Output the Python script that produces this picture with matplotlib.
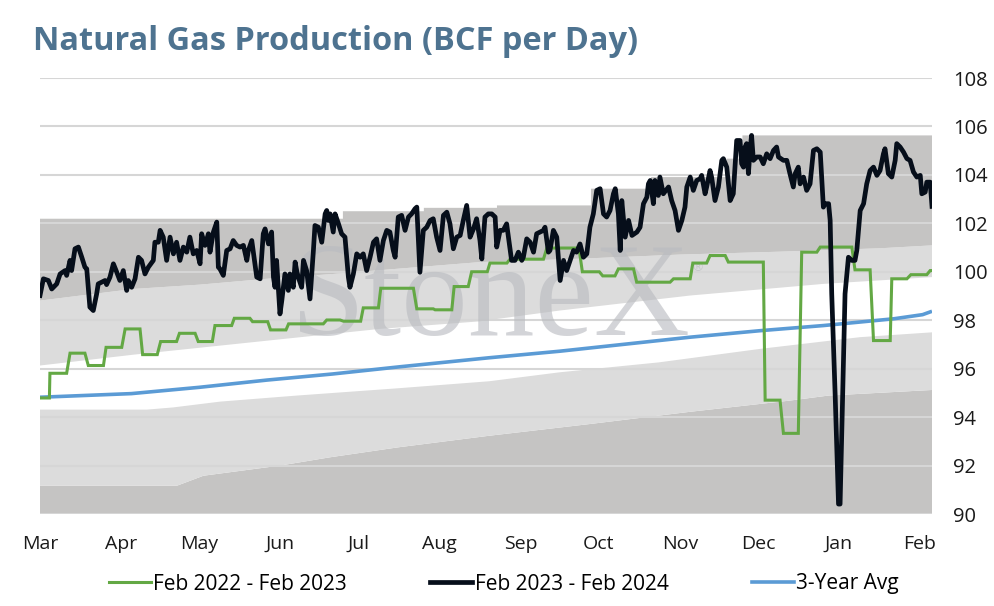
import numpy as np
import pandas as pd
import matplotlib
matplotlib.use("Agg")
import matplotlib.pyplot as plt
import matplotlib.dates as mdates
from matplotlib.lines import Line2D

plt.rcParams['font.family'] = ['Lato', 'DejaVu Sans']

# ---------------- data ----------------
START = pd.Timestamp('2023-03-01')
END_DAY = 341.6
month_labels = ['Mar', 'Apr', 'May', 'Jun', 'Jul', 'Aug', 'Sep', 'Oct', 'Nov', 'Dec', 'Jan', 'Feb']
y_ticks = [90, 92, 94, 96, 98, 100, 102, 104, 106, 108]

# Feb 2023 - Feb 2024 (days since Mar 1)
cur_days = [0, 1.3, 3.2, 4.5, 6.4, 7.7, 9.6, 10.2, 11.5, 12.1,
            13.4, 14.7, 16.0, 17.2, 17.9, 19.1, 20.4, 21.7, 22.3, 23.6,
            24.9, 25.5, 26.8, 28.1, 29.4, 30.6, 31.9, 33.2, 33.8, 35.1,
            36.4, 37.7, 38.9, 40.2, 41.5, 43.4, 44.0, 45.3, 46.0, 47.2,
            48.5, 49.8, 51.1, 52.3, 53.6, 54.9, 56.2, 57.4, 58.7, 60.0,
            61.3, 61.9, 63.2, 64.5, 65.1, 66.4, 67.7, 68.3, 68.9, 70.2,
            71.5, 72.8, 74.0, 75.3, 76.6, 77.9, 79.2, 79.8, 81.1, 83.0,
            84.3, 85.5, 86.2, 87.5, 88.7, 89.4, 90.0, 90.6, 91.9, 92.6,
            93.8, 95.1, 95.7, 97.0, 97.7, 98.3, 98.9, 100.2, 100.9, 102.1,
            103.4, 104.7, 105.3, 106.6, 107.9, 109.2, 109.8, 110.4, 111.1, 112.3,
            113.0, 114.3, 115.5, 116.8, 118.1, 118.7, 120.0, 121.3, 122.6, 123.8,
            125.1, 126.4, 127.7, 128.9, 130.2, 131.5, 132.8, 134.0, 135.3, 136.0,
            137.2, 138.5, 139.8, 141.1, 142.3, 143.6, 144.3, 145.5, 146.8, 148.1,
            149.4, 150.6, 151.9, 153.2, 154.5, 155.8, 157.0, 158.3, 159.6, 160.9,
            162.1, 163.4, 164.7, 166.0, 167.2, 168.5, 169.2, 170.4, 171.7, 173.0,
            174.3, 174.9, 176.2, 177.4, 178.7, 179.4, 180.6, 181.9, 183.2, 184.5,
            185.1, 186.4, 187.7, 189.0, 190.2, 191.5, 192.8, 193.4, 194.7, 195.3,
            196.6, 197.9, 199.2, 200.5, 201.7, 203.0, 204.3, 205.5, 206.8, 208.1,
            209.4, 210.6, 211.9, 213.2, 214.5, 215.8, 217.0, 218.3, 219.6, 220.3,
            221.5, 222.2, 222.8, 224.1, 225.4, 226.7, 228.6, 229.8, 231.1, 232.4,
            233.0, 233.7, 234.9, 235.5, 236.8, 237.4, 238.7, 240.7, 241.9, 243.2,
            244.5, 245.8, 247.0, 247.7, 249.0, 250.2, 251.5, 252.8, 253.4, 254.7,
            255.3, 256.6, 257.2, 258.5, 259.8, 261.1, 261.7, 263.0, 264.3, 265.5,
            266.8, 268.1, 268.7, 269.4, 270.0, 270.6, 271.3, 271.9, 272.5, 273.2,
            274.5, 275.8, 277.0, 278.3, 279.6, 280.9, 282.1, 282.8, 284.7, 286.0,
            287.2, 288.5, 289.2, 290.4, 291.1, 292.4, 293.6, 294.9, 296.2, 297.5,
            298.8, 300.0, 300.7, 302.0, 302.6, 303.2, 304.5, 305.8, 306.4, 307.4,
            308.3, 309.6, 310.9, 312.1, 312.8, 314.1, 315.4, 316.6, 317.9, 319.2,
            320.5, 321.7, 323.0, 323.6, 324.9, 326.2, 327.5, 328.1, 329.4, 330.7,
            332.0, 333.2, 334.5, 335.8, 337.1, 337.7, 339.0, 339.6, 340.9, 341.6]
cur_vals = [99.02, 99.71, 99.64, 99.29, 99.50, 99.91, 100.05, 99.85, 100.47, 100.05,
            100.95, 101.02, 100.60, 100.19, 100.12, 98.54, 98.40, 99.09, 99.50, 99.57,
            99.64, 99.47, 99.78, 100.33, 99.98, 99.64, 100.05, 99.23, 99.64, 99.36,
            99.71, 100.60, 100.47, 99.91, 100.19, 100.47, 101.22, 101.22, 101.71, 101.43,
            100.47, 101.43, 100.74, 101.22, 100.47, 101.02, 100.81, 101.43, 100.74, 100.88,
            100.33, 101.57, 101.09, 101.57, 100.81, 101.64, 102.05, 100.19, 100.12, 99.85,
            100.88, 100.95, 101.29, 101.09, 101.02, 101.09, 100.47, 100.88, 101.29, 99.78,
            99.71, 101.57, 101.77, 101.15, 101.64, 99.78, 99.36, 100.47, 98.26, 98.81,
            99.91, 99.23, 99.91, 99.36, 100.40, 100.05, 99.78, 99.36, 100.47, 100.05,
            98.88, 100.88, 101.91, 101.84, 101.22, 102.39, 102.53, 102.12, 102.39, 101.64,
            102.39, 101.98, 101.57, 101.43, 99.78, 99.36, 99.91, 100.74, 100.60, 100.74,
            100.05, 100.60, 101.22, 101.36, 100.47, 101.29, 101.71, 101.64, 100.88, 100.60,
            102.26, 102.33, 101.71, 102.26, 102.39, 102.60, 102.67, 99.98, 101.71, 101.84,
            102.12, 102.19, 101.43, 100.88, 102.33, 102.46, 101.98, 100.95, 101.43, 101.50,
            102.12, 102.74, 101.43, 101.77, 102.19, 101.29, 100.53, 102.26, 102.39, 102.39,
            102.26, 101.02, 101.71, 101.71, 101.98, 101.43, 100.47, 100.47, 100.81, 100.47,
            100.60, 101.36, 101.22, 100.81, 101.57, 101.64, 101.71, 101.84, 100.81, 100.88,
            101.71, 101.43, 99.64, 100.47, 100.05, 100.47, 100.88, 100.81, 101.15, 100.60,
            100.74, 101.84, 102.39, 103.36, 103.43, 102.39, 102.26, 102.53, 103.22, 103.43,
            102.39, 100.88, 102.94, 101.43, 102.12, 101.50, 101.64, 101.84, 102.81, 103.08,
            103.63, 103.77, 102.81, 103.77, 103.15, 103.91, 103.22, 103.50, 102.94, 102.53,
            101.71, 102.12, 102.67, 103.50, 103.91, 103.36, 103.77, 103.84, 103.98, 103.22,
            103.50, 104.18, 103.91, 102.94, 103.50, 104.60, 104.67, 104.32, 102.94, 103.22,
            105.42, 105.42, 104.46, 104.32, 105.15, 105.29, 104.05, 105.01, 105.63, 104.60,
            104.74, 104.74, 104.46, 104.87, 104.67, 105.01, 105.15, 104.74, 104.60, 104.60,
            104.05, 103.50, 104.05, 104.32, 103.63, 103.91, 103.36, 103.63, 105.01, 105.08,
            104.94, 102.67, 102.81, 102.81, 102.12, 99.09, 94.96, 90.41, 90.41, 94.96,
            99.09, 100.60, 100.47, 100.47, 100.88, 102.53, 102.81, 103.63, 104.18, 104.32,
            103.98, 104.18, 104.87, 105.08, 104.05, 103.91, 104.60, 105.29, 105.15, 104.94,
            104.67, 104.60, 104.12, 103.91, 103.98, 103.22, 103.29, 103.70, 103.70, 102.70]

# Feb 2022 - Feb 2023 (step-like series)
prev_days = [0, 3.6, 3.8, 10.2, 11.5, 17.2, 18.5, 24.3, 25.3, 31.3,
             32.6, 38.3, 39.3, 44.9, 46.2, 52.3, 53.4, 59.4, 60.6, 66.0,
             67.0, 73.4, 74.4, 80.4, 81.4, 87.2, 88.3, 94.2, 95.2, 108.5,
             109.8, 114.9, 116.2, 122.8, 123.8, 129.6, 130.5, 143.0, 144.3, 150.6,
             151.3, 157.7, 158.6, 164.0, 165.3, 171.3, 172.3, 178.8, 180.0, 192.8,
             194.1, 206.4, 207.7, 214.2, 215.5, 220.2, 221.5, 227.3, 228.5, 241.3,
             242.6, 249.0, 250.0, 255.3, 256.6, 262.4, 263.6, 277.0, 277.7, 283.4,
             284.7, 290.4, 291.7, 297.5, 298.8, 310.9, 312.1, 317.9, 319.2, 325.6,
             326.2, 332.0, 333.5, 339.6, 340.9, 341.6]
prev_vals = [94.79, 94.79, 95.81, 95.81, 96.64, 96.64, 96.13, 96.13, 96.88, 96.88,
             97.64, 97.64, 96.58, 96.58, 97.12, 97.12, 97.46, 97.46, 97.12, 97.12,
             97.78, 97.78, 98.08, 98.08, 97.94, 97.94, 97.60, 97.60, 97.85, 97.85,
             98.01, 98.01, 97.96, 97.96, 98.51, 98.51, 99.32, 99.32, 98.47, 98.47,
             98.43, 98.43, 99.39, 99.39, 100.0, 100.0, 100.36, 100.36, 100.52, 100.52,
             100.98, 100.98, 100.0, 100.0, 99.83, 99.83, 100.12, 100.12, 99.57, 99.57,
             99.71, 99.71, 100.36, 100.36, 100.67, 100.67, 100.40, 100.40, 94.70, 94.70,
             93.33, 93.33, 100.81, 100.81, 101.02, 101.02, 100.08, 100.08, 97.16, 97.16,
             99.71, 99.71, 99.88, 99.88, 100.05, 100.05]

# 3-Year average
avg_days = [0, 35, 61, 87, 112, 138, 172, 199, 249, 276, 300, 327, 338, 341.6]
avg_vals = [94.82, 94.97, 95.23, 95.53, 95.78, 96.08, 96.45, 96.72, 97.30, 97.57,
            97.78, 98.06, 98.23, 98.37]

# range bands (boundaries)
band1_days = [0, 52.5, 62.6, 92, 111, 137, 172, 211, 249, 287, 302, 341.6]
band1_vals = [91.17, 91.17, 91.58, 92.0, 92.34, 92.75, 93.23, 93.72, 94.22, 94.68, 94.89, 95.12]
band2_days = [0, 41, 51, 69, 98.4, 137, 172, 199, 237, 276, 314, 341.6]
band2_vals = [94.31, 94.31, 94.40, 94.64, 94.89, 95.19, 95.48, 95.85, 96.26, 96.82, 97.30, 97.50]
band3_days = [0, 36, 90, 130, 168, 199, 249, 300, 341.6]
band3_vals = [96.13, 96.58, 97.19, 97.64, 97.95, 98.40, 99.02, 99.50, 99.78]
band4_days = [0, 35.7, 61.3, 86.8, 112.3, 168.5, 206.8, 245.1, 283.4, 321.7, 341.6]
band4_vals = [98.81, 99.29, 99.47, 99.71, 99.91, 100.40, 100.54, 100.71, 100.83, 100.97, 101.09]
band5_days = [0, 116, 147, 175, 211, 234, 263, 269]
band5_vals = [102.19, 102.50, 102.64, 102.74, 103.43, 103.91, 104.67, 105.63]

# ---------------- styles ----------------
DARK = '#c5c4c3'
LIGHT = '#dcdcdc'
GRID = '#d6d6d6'
C_PREV = '#63a844'
C_CUR = '#060e1a'
C_AVG = '#5b9bd5'
TITLE_C = '#4e7390'
TXT = '#1a1a1a'
SANS = ['Open Sans', 'DejaVu Sans']

base = mdates.date2num(START)


def X(days):
    return base + np.asarray(days, dtype=float)


fig = plt.figure(figsize=(9.94, 6.06), dpi=100)
ax = fig.add_axes([40 / 994, 1 - 514 / 606, 892 / 994, 436 / 606])

# bands as polygons
b1x, b1y = X(band1_days), np.asarray(band1_vals)
b2x, b2y = X(band2_days), np.asarray(band2_vals)
b3x, b3y = X(band3_days), np.asarray(band3_vals)
b4x, b4y = X(band4_days), np.asarray(band4_vals)
s_days = list(np.repeat(band5_days, 2)[1:]) + [END_DAY]
s_vals = list(np.repeat(band5_vals, 2))
b5x, b5y = X(s_days), np.asarray(s_vals)

ax.fill(np.r_[b1x[0], b1x, b1x[-1]], np.r_[90, b1y, 90], color=DARK, lw=0, zorder=1)
ax.fill(np.r_[b2x, b1x[::-1]], np.r_[b2y, b1y[::-1]], color=LIGHT, lw=0, zorder=1)
ax.fill(np.r_[b4x, b3x[::-1]], np.r_[b4y, b3y[::-1]], color=LIGHT, lw=0, zorder=1)
ax.fill(np.r_[b5x, b4x[::-1]], np.r_[b5y, b4y[::-1]], color=DARK, lw=0, zorder=1)

for yv in y_ticks:
    ax.axhline(yv, color=GRID, lw=1.5, zorder=1.5)

# watermark
ax.text(0.505, 0.41, 'StoneX', transform=ax.transAxes, ha='center', va='baseline',
        fontsize=96, family='Liberation Serif', color='#b9bbc0', alpha=0.62, zorder=2)
ax.text(0.737, 0.565, '\u00ae', transform=ax.transAxes, ha='center', va='center',
        fontsize=9, family='DejaVu Sans', color='#b9bbc0', alpha=0.62, zorder=2)

ax.plot(X(avg_days), avg_vals, color=C_AVG, lw=2.6, zorder=3, solid_capstyle='butt')
ax.plot(X(prev_days), prev_vals, color=C_PREV, lw=2.2, zorder=4, solid_joinstyle='miter')
ax.plot(X(cur_days), cur_vals, color=C_CUR, lw=3.4, zorder=5, solid_joinstyle='round')

ax.set_xlim(base, base + END_DAY)
ax.set_ylim(90, 108)
ax.yaxis.tick_right()
ax.set_yticks(y_ticks)
ax.set_yticklabels([str(v) for v in y_ticks])
tick_dates = pd.date_range(START, periods=len(month_labels), freq='MS')
ax.set_xticks(mdates.date2num(tick_dates))
ax.set_xticklabels(month_labels)
ax.tick_params(axis='y', length=0, pad=15, labelsize=14.5, labelcolor=TXT)
ax.tick_params(axis='x', length=0, pad=15, labelsize=14, labelcolor=TXT)
for lab in ax.get_xticklabels() + ax.get_yticklabels():
    lab.set_family(SANS)
for sp in ax.spines.values():
    sp.set_visible(False)

fig.text(33 / 994, 1 - 41 / 606, 'Natural Gas Production (BCF per Day)', ha='left', va='center',
         fontsize=23.4, fontweight='bold', color=TITLE_C, family=SANS)

handles = [Line2D([], [], color=C_PREV, lw=2.2),
           Line2D([], [], color=C_CUR, lw=3.4),
           Line2D([], [], color=C_AVG, lw=2.6)]
labels = ['Feb 2022 - Feb 2023', 'Feb 2023 - Feb 2024', '3-Year Avg']
fig.legend(handles, labels, loc='center', bbox_to_anchor=(0.507, 1 - 584 / 606), ncol=3,
           frameon=False, prop={'family': SANS, 'size': 15},
           handlelength=2.0, handletextpad=0.12, columnspacing=4.0)

assert len(cur_days) == len(cur_vals)
assert len(prev_days) == len(prev_vals)
fig.savefig('out.png', dpi=100)
